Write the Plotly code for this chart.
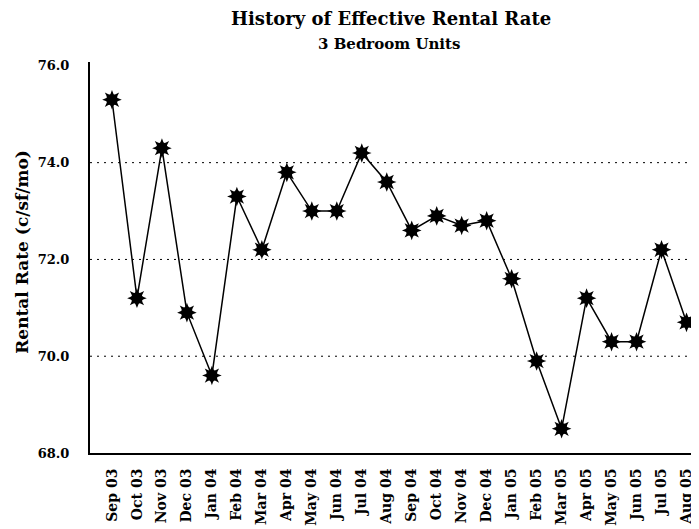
import plotly.graph_objects as go

months = ["Sep 03", "Oct 03", "Nov 03", "Dec 03", "Jan 04", "Feb 04", "Mar 04", "Apr 04",
          "May 04", "Jun 04", "Jul 04", "Aug 04", "Sep 04", "Oct 04", "Nov 04", "Dec 04",
          "Jan 05", "Feb 05", "Mar 05", "Apr 05", "May 05", "Jun 05", "Jul 05", "Aug 05"]
rate = [75.3, 71.2, 74.3, 70.9, 69.6, 73.3, 72.2, 73.8,
        73.0, 73.0, 74.2, 73.6, 72.6, 72.9, 72.7, 72.8,
        71.6, 69.9, 68.5, 71.2, 70.3, 70.3, 72.2, 70.7]
y_ticks = [68, 70, 72, 74, 76]
grid_levels = [70, 72, 74]

serif = "DejaVu Serif"

fig = go.Figure()
fig.add_trace(go.Scatter(x=months, y=rate, mode="lines+markers", showlegend=False,
                         line=dict(color="black", width=1.5),
                         marker=dict(symbol="star-square", size=13, color="black")))
fig.add_trace(go.Scatter(x=months, y=rate, mode="markers", showlegend=False,
                         marker=dict(symbol="star-diamond", size=14, color="black")))

for g in grid_levels:
    fig.add_hline(y=g, line=dict(color="black", width=1, dash="2px,5px"), layer="below")

# the page body adds an 8px margin, so the figure is drawn 8px smaller
fig.update_layout(
    width=691, height=521,
    margin=dict(l=82, r=0, t=54, b=76),
    paper_bgcolor="white", plot_bgcolor="white",
    font=dict(family=serif, color="black"),
    xaxis=dict(type="category", range=[-0.88, 23.5], showgrid=False,
               showline=True, linecolor="black", linewidth=2, ticks="",
               tickangle=-90, automargin=False, ticklabelstandoff=8,
               tickfont=dict(family=serif, size=14, weight="bold")),
    yaxis=dict(range=[68, 76.08], tickvals=y_ticks,
               ticktext=[f"{v:.1f}" for v in y_ticks], showgrid=False,
               showline=True, linecolor="black", linewidth=2, ticks="",
               ticklabelstandoff=16, zeroline=False, automargin=False,
               tickfont=dict(family=serif, size=13, weight="bold")),
    annotations=[
        dict(text="History of Effective Rental Rate", xref="paper", yref="paper",
             x=0.494, y=1.11, xanchor="center", yanchor="middle", showarrow=False,
             font=dict(family=serif, size=18, weight="bold")),
        dict(text="3 Bedroom Units", xref="paper", yref="paper",
             x=0.491, y=1.046, xanchor="center", yanchor="middle", showarrow=False,
             font=dict(family=serif, size=15, weight="bold")),
        dict(text="Rental Rate (c/sf/mo)", xref="paper", yref="paper",
             x=-0.112, y=0.514, xanchor="center", yanchor="middle", showarrow=False,
             textangle=-90, font=dict(family=serif, size=17, weight="bold")),
    ],
)

fig.write_html("out.html")
